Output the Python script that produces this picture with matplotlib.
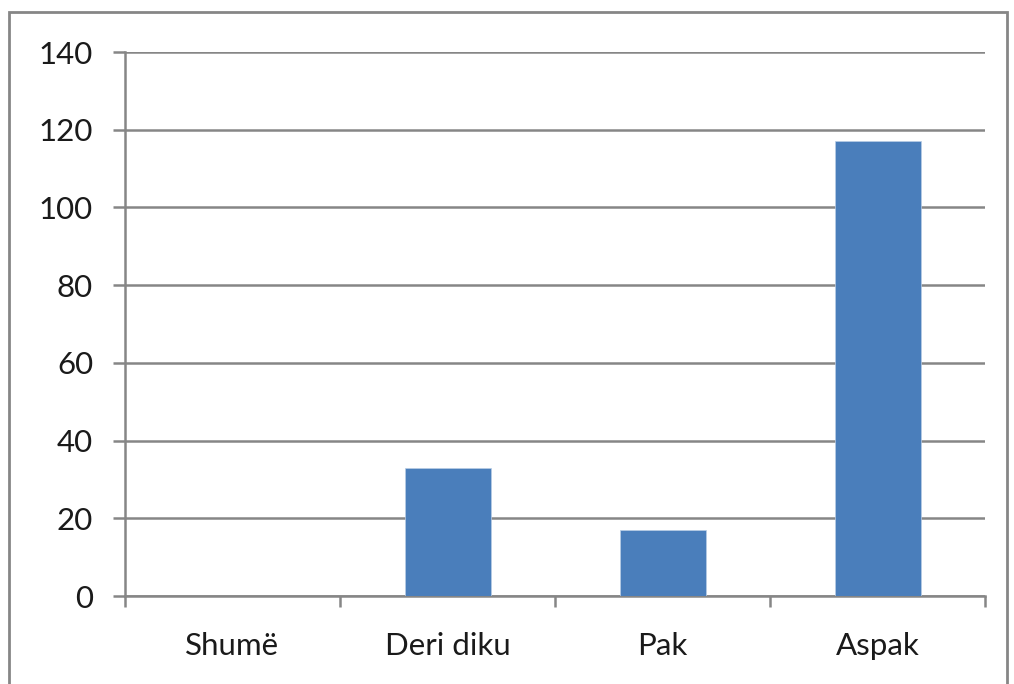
import numpy as np
import matplotlib.pyplot as plt
from matplotlib.patches import Rectangle

categories = ["Shumë", "Deri diku", "Pak", "Aspak"]
values = [0, 33, 17, 117]
yticks = [0, 20, 40, 60, 80, 100, 120, 140]

plt.rcParams['font.family'] = ['Lato', 'DejaVu Sans']
grey = "#868686"

fig = plt.figure(figsize=(10.14, 6.84), dpi=100)
ax = fig.add_axes([125/1014, 88/684, 860/1014, 544/684])

x = np.arange(len(categories))
ax.bar(x, values, width=0.4, color="#4a7ebb", edgecolor="#b9cde5", linewidth=0.5, zorder=3)

ax.set_xlim(-0.5, len(categories) - 0.5)
ax.set_ylim(0, 140)
ax.set_yticks(yticks)
ax.yaxis.grid(True, color=grey, linewidth=1.8)
ax.set_axisbelow(True)

ax.set_xticks(x)
ax.set_xticklabels(categories, fontsize=22.5, color="#1a1a1a")
ax.set_xticks(np.arange(len(categories) + 1) - 0.5, minor=True)
ax.tick_params(axis='x', which='major', length=0, pad=26)
ax.tick_params(axis='x', which='minor', length=8, width=1.8, color=grey, direction='out')
ax.tick_params(axis='y', length=9, width=1.8, color=grey, pad=14, labelsize=22.5,
               labelcolor="#1a1a1a")

for s in ["top", "right"]:
    ax.spines[s].set_visible(False)
for s in ["left", "bottom"]:
    ax.spines[s].set_color(grey)
    ax.spines[s].set_linewidth(1.8)

# chart border
fig.patches.append(Rectangle((9/1014, -0.1), 998/1014, 1.1 - 12/684, transform=fig.transFigure,
                             fill=False, edgecolor=grey, linewidth=2))

fig.savefig("out.png", dpi=100)
